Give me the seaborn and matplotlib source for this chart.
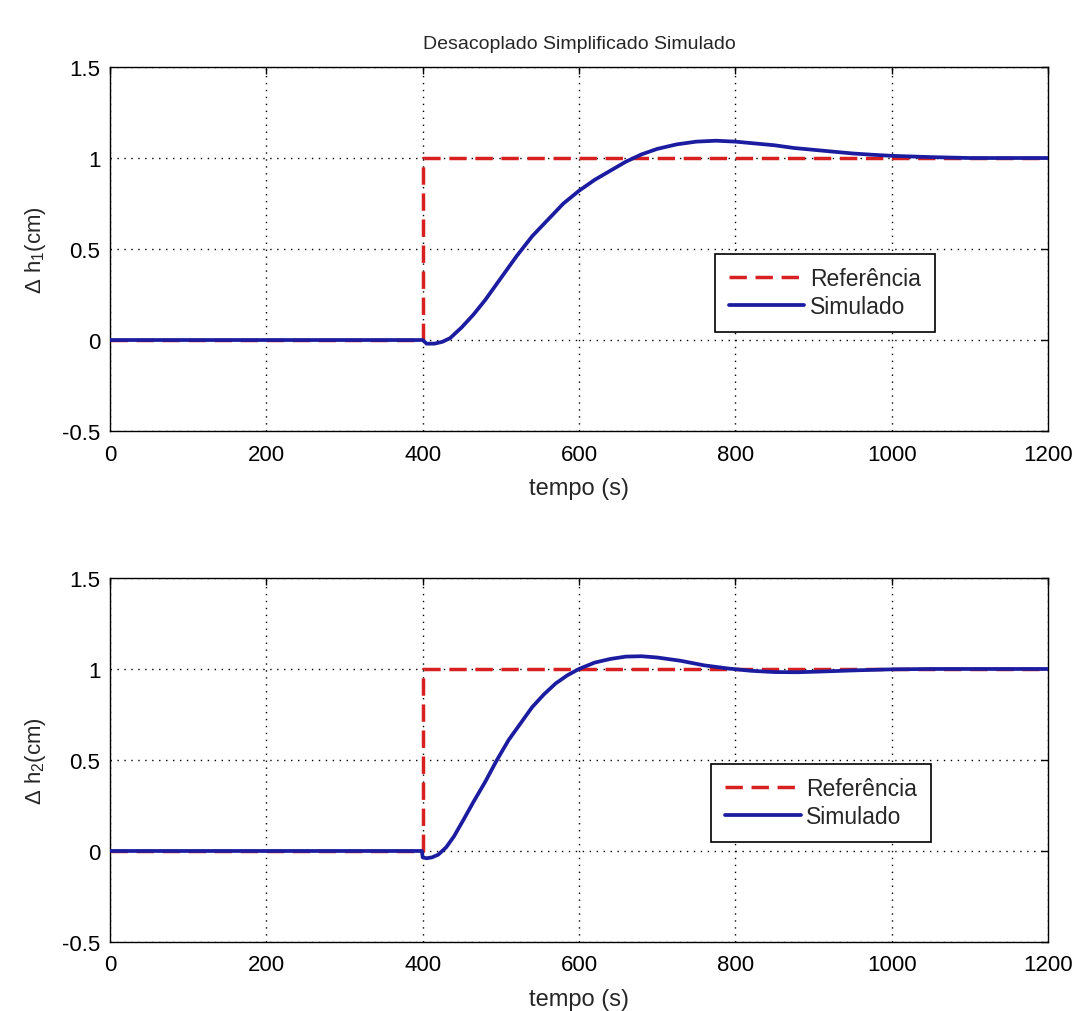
import numpy as np
import pandas as pd
import matplotlib
matplotlib.use("Agg")
import matplotlib.pyplot as plt
import seaborn as sns

# ---- data ----
ref_t = [0, 400, 400, 1200]
ref_v = [0, 0, 1, 1]

sim1_t = [0, 400, 405, 415, 425, 435, 450, 465, 480, 500, 520, 540, 560, 580, 600,
          620, 640, 660, 680, 700, 725, 750, 775, 800, 825, 850, 875, 900, 925,
          950, 975, 1000, 1050, 1100, 1150, 1200]
sim1_v = [0, 0, -0.02, -0.02, -0.01, 0.01, 0.07, 0.14, 0.22, 0.34, 0.46, 0.57, 0.66,
          0.75, 0.82, 0.88, 0.93, 0.98, 1.02, 1.05, 1.075, 1.09, 1.095, 1.09, 1.08,
          1.07, 1.055, 1.045, 1.035, 1.025, 1.018, 1.012, 1.005, 1.0, 1.0, 1.0]

sim2_t = [0, 399, 400, 405, 412, 420, 430, 440, 452, 465, 480, 495, 510, 525, 540,
          555, 570, 585, 600, 620, 640, 660, 680, 700, 730, 760, 790, 820, 850, 880,
          910, 950, 1000, 1050, 1100, 1150, 1200]
sim2_v = [0, 0, -0.035, -0.04, -0.035, -0.02, 0.02, 0.08, 0.17, 0.27, 0.38, 0.5, 0.61,
          0.7, 0.79, 0.86, 0.92, 0.965, 1.0, 1.035, 1.055, 1.068, 1.07, 1.063, 1.045,
          1.02, 1.003, 0.99, 0.983, 0.982, 0.986, 0.992, 0.998, 1.0, 1.0, 1.0, 1.0]

x_ticks = [0, 200, 400, 600, 800, 1000, 1200]
y_ticks = [-0.5, 0, 0.5, 1, 1.5]
y_tick_labels = ["-0.5", "0", "0.5", "1", "1.5"]
title = "Desacoplado Simplificado Simulado"
xlabel = "tempo (s)"
ylabels = [r"$\Delta$ h$_1$(cm)", r"$\Delta$ h$_2$(cm)"]
legend_labels = ["Referência", "Simulado"]

# ---- style ----
sns.set_style("white")
plt.rcParams["font.family"] = ["Liberation Sans", "DejaVu Sans"]
plt.rcParams["mathtext.fontset"] = "custom"
plt.rcParams["mathtext.rm"] = "Liberation Sans"
plt.rcParams["mathtext.it"] = "Liberation Sans"
plt.rcParams["mathtext.default"] = "regular"

RED = "#d82020"
BLUE = "#1c1ca0"

fig = plt.figure(figsize=(10.84, 10.12), dpi=100)
ax1 = fig.add_axes([0.1015, 0.5731, 0.8653, 0.3597])
ax2 = fig.add_axes([0.1015, 0.0682, 0.8653, 0.3597])

sims = [(sim1_t, sim1_v), (sim2_t, sim2_v)]
legend_boxes = [(0.645, 0.272), (0.641, 0.275)]

for i, ax in enumerate([ax1, ax2]):
    df_ref = pd.DataFrame({"t": ref_t, "v": ref_v})
    st, sv = sims[i]
    df_sim = pd.DataFrame({"t": st, "v": sv})
    sns.lineplot(data=df_ref, x="t", y="v", ax=ax, estimator=None, sort=False,
                 color=RED, linewidth=2.5, linestyle=(0, (5, 2.5)), label=legend_labels[0],
                 zorder=3)
    sns.lineplot(data=df_sim, x="t", y="v", ax=ax, estimator=None, sort=False,
                 color=BLUE, linewidth=2.7, label=legend_labels[1], zorder=4)
    ax.set_xlim(0, 1200)
    ax.set_ylim(-0.5, 1.5)
    ax.set_xticks(x_ticks)
    ax.set_yticks(y_ticks)
    ax.set_yticklabels(y_tick_labels)
    ax.grid(True, linestyle=(0, (1, 4)), color="black", linewidth=1.0)
    ax.tick_params(direction="in", top=True, right=True, labelsize=16, length=5,
                   width=1, colors="black")
    ax.tick_params(axis="x", pad=9)
    ax.tick_params(axis="y", pad=7)
    for s in ax.spines.values():
        s.set_visible(True)
        s.set_color("black")
        s.set_linewidth(1.0)
    ax.set_xlabel(xlabel, fontsize=17, labelpad=9)
    ax.set_ylabel(ylabels[i], fontsize=16, labelpad=10)
    leg = ax.legend(loc="lower left", bbox_to_anchor=legend_boxes[i], fontsize=16.5,
                    frameon=True, fancybox=False, edgecolor="black", framealpha=1,
                    handlelength=3.3, borderpad=0.6, labelspacing=0.21,
                    handletextpad=0.25, borderaxespad=0)
    leg.get_frame().set_linewidth(1.2)

ax1.set_title(title, fontsize=14, pad=14)

fig.savefig("out.png", dpi=100)
